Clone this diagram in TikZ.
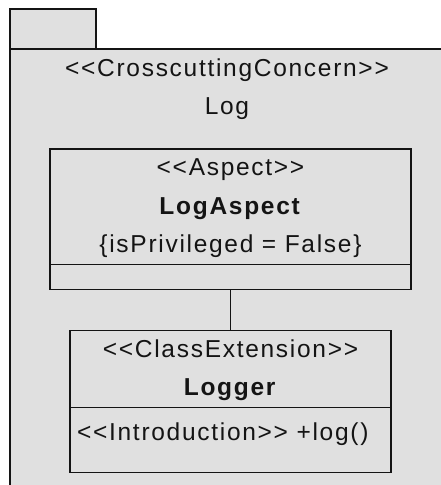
\documentclass[tikz,border=0pt]{standalone}
\usepackage{fontspec}
\setmainfont{Liberation Sans}[LetterSpace=7]
\usetikzlibrary{positioning}
\definecolor{pkgfill}{RGB}{224,224,224}
\definecolor{umlink}{RGB}{20,20,20}
\newcommand{\stereo}[1]{<{}<#1>{}>}

\begin{document}
\begin{tikzpicture}[x=1pt,y=-1pt,line width=1.5pt,color=umlink,
  font=\fontsize{24.5}{38.5}\selectfont,
  classbox/.style={draw=umlink,fill=pkgfill,inner sep=0pt,outer sep=0pt,align=center}]
\useasboundingbox (0,0) rectangle (441,485);
\clip (0,0) rectangle (441,485);
\node[classbox,minimum width=86,minimum height=40,anchor=north west] (tab) at (10,9) {};
\node[classbox,minimum width=460,minimum height=460,anchor=north west] (pkg) at (tab.south west) {};
\node[align=center] (pkgname) at (227,88) {\strut\stereo{CrosscuttingConcern}\\\strut Log};
\node[classbox,minimum width=361,minimum height=115,anchor=north] (aspect) at (230.5,149)
  {\strut\stereo{Aspect}\\\strut\textbf{LogAspect}\\\strut\{isPrivileged = False\}};
\node[classbox,minimum width=361,minimum height=25,below=0pt of aspect] (aspectops) {};
\node[classbox,minimum width=321,minimum height=76,below=41pt of aspectops] (logger)
  {\strut\stereo{ClassExtension}\\\strut\textbf{Logger}};
\node[classbox,minimum width=321,minimum height=65,below=0pt of logger] (loggerops) {};
\node[anchor=base west] (intro) at ([shift={(3,33)}]loggerops.north west) {\stereo{Introduction} +log()};
\draw (aspectops) -- (logger);
\end{tikzpicture}
\end{document}
